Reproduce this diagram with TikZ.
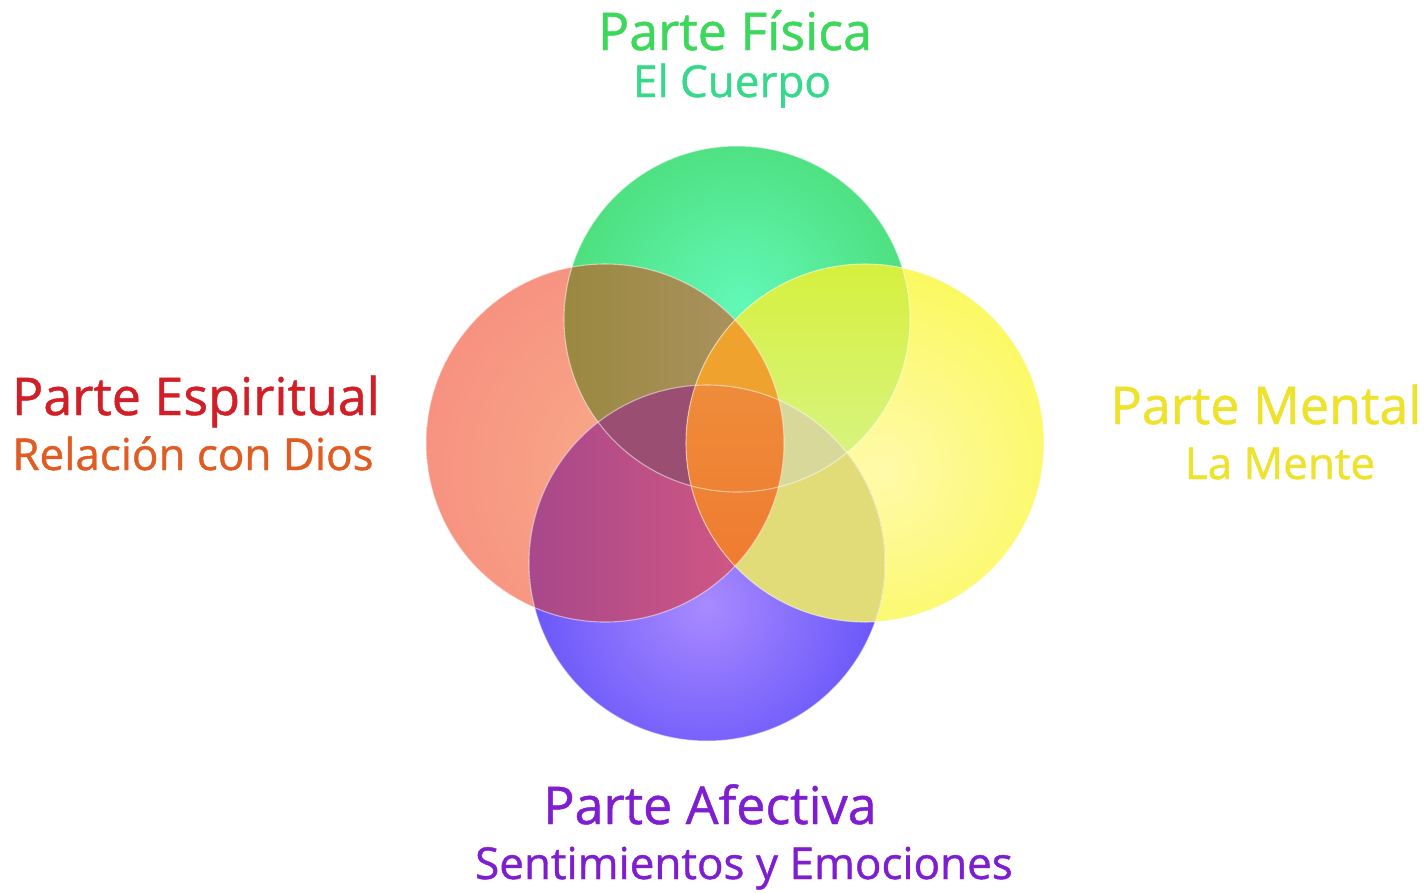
\documentclass[tikz,border=0pt]{standalone}
\usepackage{fontspec}
\setmainfont{Open Sans}
\newfontfamily\labelfont{Open Sans}[FakeBold=0.9]
\definecolor{gout}{HTML}{44D464}
\definecolor{gin}{HTML}{62F8B8}
\definecolor{rout}{HTML}{F68C7E}
\definecolor{rin}{HTML}{F9AC8A}
\definecolor{yout}{HTML}{FAF84A}
\definecolor{yin}{HTML}{FFFAAA}
\definecolor{bout}{HTML}{5646F8}
\definecolor{bin}{HTML}{A88AFF}
\definecolor{olivel}{HTML}{9A8840}
\definecolor{oliver}{HTML}{AE9466}
\definecolor{limet}{HTML}{D6F03C}
\definecolor{limeb}{HTML}{D8F48C}
\definecolor{magl}{HTML}{A8488A}
\definecolor{magr}{HTML}{D85A82}
\definecolor{mauve}{HTML}{9A4F72}
\definecolor{khaki}{HTML}{D8D89A}
\definecolor{yb}{HTML}{E2DC78}
\definecolor{oranget}{HTML}{F0A22E}
\definecolor{orangem}{HTML}{EE8C3A}
\definecolor{orangeb}{HTML}{F07A30}
\definecolor{tgreen}{HTML}{3CD85C}
\definecolor{tgreen2}{HTML}{36D88A}
\definecolor{tred}{HTML}{D21F27}
\definecolor{tred2}{HTML}{E05C22}
\definecolor{tyellow}{HTML}{EEE22C}
\definecolor{tpurple}{HTML}{7E1ED0}
\begin{document}
\begin{tikzpicture}[x=1pt,y=-1pt,
  bigtitle/.style={anchor=base,inner sep=0pt,font=\labelfont\fontsize{52}{60}\selectfont},
  subtitle/.style={anchor=base,inner sep=0pt,font=\labelfont\fontsize{44}{52}\selectfont},
  rim/.style={draw=white,draw opacity=0.5,line width=1.1pt}]
\useasboundingbox (0,0) rectangle (1427,892);
\fill[white] (0,0) rectangle (1427,892);
\def\pathG{(737,319) circle (173pt)}
\def\pathR{(605,443) circle (179pt)}
\def\pathY{(865,443) circle (179pt)}
\def\pathB{(707,563) circle (178pt)}
% base circles
\begin{scope}\clip \pathG; \shade[inner color=gin,outer color=gout] (740,305) circle (250pt);\end{scope}
\begin{scope}\clip \pathR; \shade[inner color=rin,outer color=rout] (650,470) circle (280pt);\end{scope}
\begin{scope}\clip \pathY; \shade[inner color=yin,outer color=yout] (880,470) circle (260pt);\end{scope}
\begin{scope}\clip \pathB; \shade[inner color=bin,outer color=bout] (705,605) circle (230pt);\end{scope}
% pairwise overlaps
\begin{scope}\clip \pathR; \clip \pathG; \shade[left color=olivel,right color=oliver] (564,146) rectangle (785,492);\end{scope}
\begin{scope}\clip \pathY; \clip \pathG; \shade[top color=limet,bottom color=limeb] (685,258) rectangle (910,492);\end{scope}
\begin{scope}\clip \pathR; \clip \pathB; \shade[left color=magl,right color=magr] (529,385) rectangle (785,625);\end{scope}
\begin{scope}\clip \pathY; \fill[yb] \pathB;\end{scope}
% triple overlaps
\begin{scope}\clip \pathR; \clip \pathG; \fill[mauve] \pathB;\end{scope}
\begin{scope}\clip \pathY; \clip \pathG; \fill[khaki] \pathB;\end{scope}
% centre lens
\begin{scope}\clip \pathR; \clip \pathY; \fill[oranget] (680,300) rectangle (790,580);
  \clip \pathB; \shade[top color=orangem,bottom color=orangeb] (680,385) rectangle (790,580);\end{scope}
% rims
\draw[rim] \pathG; \draw[rim] \pathR; \draw[rim] \pathY; \draw[rim] \pathB;
% labels
\node[bigtitle,text=tgreen] (fisica) at (735,50) {Parte Física};
\node[subtitle,text=tgreen2] (cuerpo) at (732,97) {El Cuerpo};
\node[bigtitle,text=tred] (espiritual) at (196,415) {Parte Espiritual};
\node[subtitle,text=tred2] (dios) at (193,470) {Relación con Dios};
\node[bigtitle,text=tyellow] (mental) at (1266,424) {Parte Mental};
\node[subtitle,text=tyellow] (mente) at (1280,479) {La Mente};
\node[bigtitle,text=tpurple] (afectiva) at (710,824) {Parte Afectiva};
\node[subtitle,text=tpurple] (sentimientos) at (744,879) {Sentimientos y Emociones};
\end{tikzpicture}
\end{document}
